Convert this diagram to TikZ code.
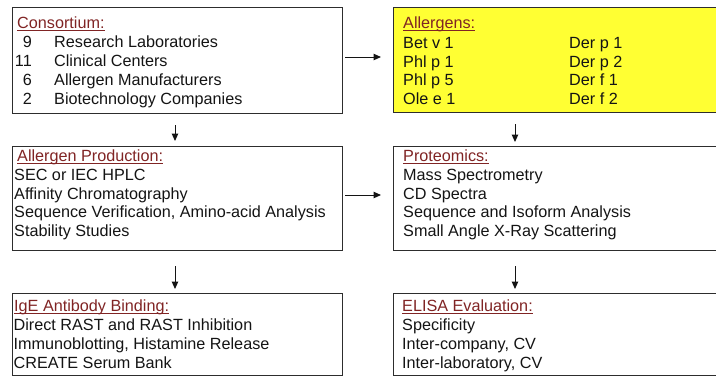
\documentclass[tikz,border=0pt]{standalone}
\usepackage{fontspec}
\setmainfont{Liberation Sans}
\usetikzlibrary{arrows.meta}
\definecolor{hdr}{RGB}{128,36,36}
\definecolor{ylw}{RGB}{255,255,51}
\definecolor{brd}{RGB}{45,45,45}
\definecolor{ink}{RGB}{20,20,20}
\tikzset{
  box/.style={draw=brd, line width=1.4pt, rectangle, inner sep=0pt, anchor=north west},
  txt/.style={inner sep=0pt, anchor=base west, text=ink, font=\fontsize{16.2}{19}\selectfont},
  num/.style={txt, anchor=base east},
  hd/.style={txt, text=hdr},
  arr/.style={draw=ink, line width=1pt, -{Triangle[length=7.5pt,width=6.5pt]}}
}
\newcommand{\hdtext}[1]{\setbox0\hbox{#1}\rlap{\rule[-1.9pt]{\wd0}{0.8pt}}\box0}
\begin{document}
\begin{tikzpicture}[x=1pt,y=-1pt]
\useasboundingbox (0,0) rectangle (716,376);
\clip (0,0) rectangle (716,376);
% boxes
\node[box, minimum width=330pt, minimum height=106pt] (b1) at (12,7) {};
\node[box, fill=ylw, minimum width=330pt, minimum height=105pt] (b2) at (393,7) {};
\node[box, minimum width=330pt, minimum height=104pt] (b3) at (12,146) {};
\node[box, minimum width=330pt, minimum height=104pt] (b4) at (393,146) {};
\node[box, minimum width=330pt, minimum height=82pt] (b5) at (12,293) {};
\node[box, minimum width=330pt, minimum height=82pt] (b6) at (393,293) {};
% box 1
\node[hd] (b1h) at (17,28.75) {\hdtext{Consortium:}};
\node[num] (n1) at (32,47.25) {9};
\node[num] (n2) at (32,66.25) {11};
\node[num] (n3) at (32,85.25) {6};
\node[num] (n4) at (32,104.25) {2};
\node[txt] (t11) at (54,47.25) {Research Laboratories};
\node[txt] (t12) at (54,66.25) {Clinical Centers};
\node[txt] (t13) at (54,85.25) {Allergen Manufacturers};
\node[txt] (t14) at (54,104.25) {Biotechnology Companies};
% box 2
\node[hd] (b2h) at (403,28.75) {\hdtext{Allergens:}};
\node[txt] (t21) at (403,48.75) {Bet v 1};
\node[txt] (t22) at (403,67.75) {Phl p 1};
\node[txt] (t23) at (403,85.75) {Phl p 5};
\node[txt] (t24) at (403,104.75) {Ole e 1};
\node[txt] (t25) at (569,48.75) {Der p 1};
\node[txt] (t26) at (569,67.75) {Der p 2};
\node[txt] (t27) at (569,85.75) {Der f 1};
\node[txt] (t28) at (569,104.75) {Der f 2};
% box 3
\node[hd] (b3h) at (17,161.75) {\hdtext{Allergen Production:}};
\node[txt] (t31) at (14,180.75) {SEC or IEC HPLC};
\node[txt] (t32) at (14,199.25) {Affinity Chromatography};
\node[txt] (t33) at (14,217.75) {Sequence Verification, Amino-acid Analysis};
\node[txt] (t34) at (14,236.25) {Stability Studies};
% box 4
\node[hd] (b4h) at (403,161.75) {\hdtext{Proteomics:}};
\node[txt] (t41) at (403,180.75) {Mass Spectrometry};
\node[txt] (t42) at (403,199.25) {CD Spectra};
\node[txt] (t43) at (403,217.75) {Sequence and Isoform Analysis};
\node[txt] (t44) at (403,236.25) {Small Angle X-Ray Scattering};
% box 5
\node[hd] (b5h) at (14,311.75) {\hdtext{IgE Antibody Binding:}};
\node[txt] (t51) at (13.5,330.75) {Direct RAST and RAST Inhibition};
\node[txt] (t52) at (13.5,349.75) {Immunoblotting, Histamine Release};
\node[txt] (t53) at (13.5,368.75) {CREATE Serum Bank};
% box 6
\node[hd] (b6h) at (402,311.75) {\hdtext{ELISA Evaluation:}};
\node[txt] (t61) at (402,330.75) {Specificity};
\node[txt] (t62) at (402,349.75) {Inter-company, CV};
\node[txt] (t63) at (402,368.75) {Inter-laboratory, CV};
% connectors
\coordinate (h1) at (0,57);
\coordinate (h2) at (0,195);
\coordinate (vl) at (175,0);
\coordinate (vr) at (515,0);
\draw[arr, shorten <=2pt, shorten >=12pt] (b1.east |- h1) -- (b2.west |- h1);
\draw[arr, shorten <=2pt, shorten >=12pt] (b3.east |- h2) -- (b4.west |- h2);
\draw[arr, shorten <=11pt, shorten >=5pt] (b1.south -| vl) -- (b3.north -| vl);
\draw[arr, shorten <=11pt, shorten >=4pt] (b2.south -| vr) -- (b4.north -| vr);
\draw[arr, shorten <=15pt, shorten >=4pt] (b3.south -| vl) -- (b5.north -| vl);
\draw[arr, shorten <=15pt, shorten >=4pt] (b4.south -| vr) -- (b6.north -| vr);
\end{tikzpicture}
\end{document}
